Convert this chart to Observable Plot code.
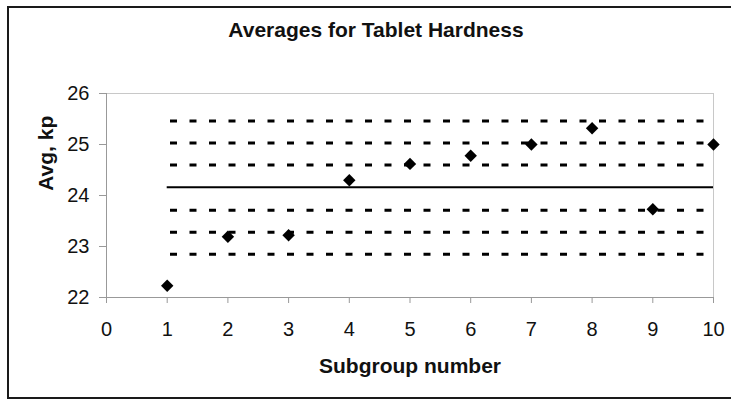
<!DOCTYPE html>
<html>
<head>
<meta charset="utf-8">
<script src="https://cdn.jsdelivr.net/npm/d3@7"></script>
<script src="https://cdn.jsdelivr.net/npm/@observablehq/plot@0.6"></script>
<style>
  html, body { margin: 0; padding: 0; background: #fff; }
  #wrap { position: relative; width: 731px; height: 404px; overflow: hidden; }
  #border { position: absolute; left: 7px; top: 6px; width: 740px; height: 393px; border: 2px solid #1a1a1a; box-sizing: border-box; pointer-events: none; }
  svg { font-family: Arial, "Liberation Sans", sans-serif; }
</style>
</head>
<body>
<div id="wrap"><div id="border"></div></div>
<script>
const titleText = "Averages for Tablet Hardness";
const xLabel = "Subgroup number";
const yLabel = "Avg, kp";
const subgroups = [1, 2, 3, 4, 5, 6, 7, 8, 9, 10];
const averages = [22.23, 23.19, 23.22, 24.30, 24.62, 24.78, 25.00, 25.32, 23.73, 25.00];
const centerLine = 24.16;
const limitLines = [22.85, 23.28, 23.71, 24.60, 25.03, 25.46];
const xTicks = [0, 1, 2, 3, 4, 5, 6, 7, 8, 9, 10];
const yTicks = [22, 23, 24, 25, 26];

const points = subgroups.map((s, i) => ({s, v: averages[i]}));

const chart = Plot.plot({
  width: 731,
  height: 404,
  marginLeft: 106,
  marginRight: 18,
  marginTop: 93,
  marginBottom: 107,
  style: {background: "transparent", overflow: "visible"},
  x: {domain: [0, 10]},
  y: {domain: [22, 26]},
  marks: [
    Plot.frame({stroke: "#c8c8c8"}),
    Plot.ruleX([0], {stroke: "#999"}),
    Plot.ruleY([22], {stroke: "#999"}),
    Plot.axisX({ticks: xTicks, tickSize: 6, tickPadding: 18, fontSize: 20, stroke: "#999", fill: "#111", label: null, tickFormat: d => d}),
    Plot.axisY({ticks: yTicks, tickSize: 7, tickPadding: 10, fontSize: 20, stroke: "#999", fill: "#111", label: null, tickFormat: d => d}),
    Plot.ruleY(limitLines, {x1: 1, x2: 10, stroke: "#000", strokeWidth: 3, strokeDasharray: "7,12.5", strokeDashoffset: -3.3}),
    Plot.ruleY([centerLine], {x1: 1, x2: 10, stroke: "#000", strokeWidth: 2}),
    Plot.dot(points, {x: "s", y: "v", symbol: "diamond2", r: 5.6, fill: "#000", stroke: "none"}),
    Plot.text([titleText], {text: d => d, frameAnchor: "top", dx: -34, dy: -63, lineAnchor: "middle", fontSize: 21, fontWeight: "bold", fill: "#111"}),
    Plot.text([xLabel], {text: d => d, frameAnchor: "bottom", dy: 69, lineAnchor: "middle", fontSize: 21, fontWeight: "bold", fill: "#111"}),
    Plot.text([yLabel], {text: d => d, frameAnchor: "left", dx: -60, dy: -4.7, rotate: -90, lineAnchor: "middle", fontSize: 21, fontWeight: "bold", fill: "#111"})
  ]
});
document.getElementById("wrap").prepend(chart);
</script>
</body>
</html>
